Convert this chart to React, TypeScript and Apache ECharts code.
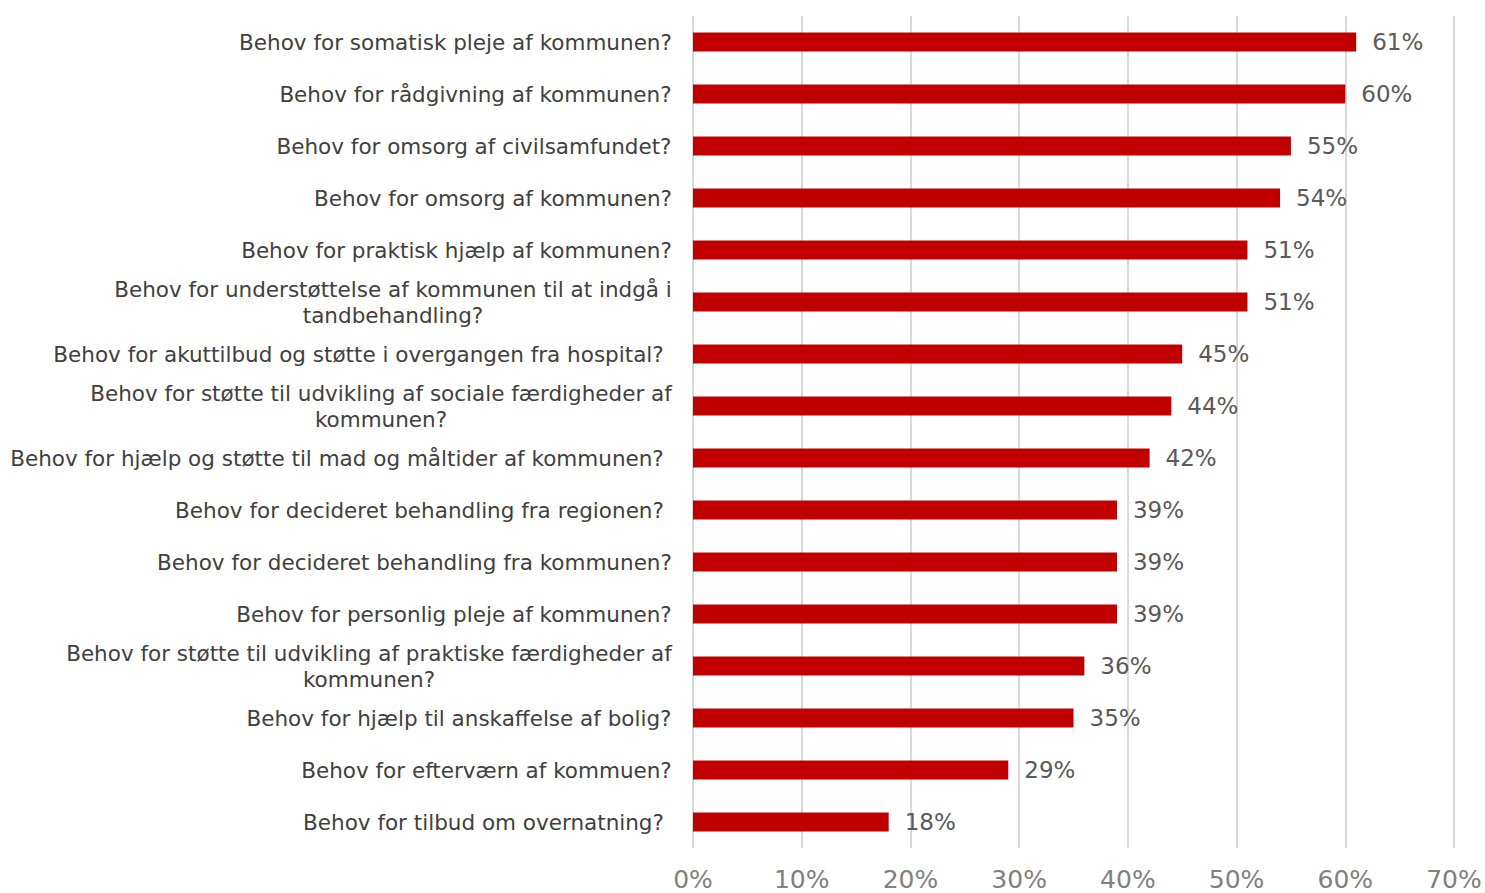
import React, { useEffect, useRef } from "react";
import * as echarts from "echarts";

const categories: string[] = [
  "Behov for somatisk pleje af kommunen?",
  "Behov for rådgivning af kommunen?",
  "Behov for omsorg af civilsamfundet?",
  "Behov for omsorg af kommunen?",
  "Behov for praktisk hjælp af kommunen?",
  "Behov for understøttelse af kommunen til at indgå i\ntandbehandling?",
  "Behov for akuttilbud og støtte i overgangen fra hospital? ",
  "Behov for støtte til udvikling af sociale færdigheder af\nkommunen?",
  "Behov for hjælp og støtte til mad og måltider af kommunen? ",
  "Behov for decideret behandling fra regionen? ",
  "Behov for decideret behandling fra kommunen?",
  "Behov for personlig pleje af kommunen?",
  "Behov for støtte til udvikling af praktiske færdigheder af\nkommunen?",
  "Behov for hjælp til anskaffelse af bolig?",
  "Behov for efterværn af kommuen?",
  "Behov for tilbud om overnatning? ",
];

const values: number[] = [61, 60, 55, 54, 51, 51, 45, 44, 42, 39, 39, 39, 36, 35, 29, 18];

const xTicks: number[] = [0, 10, 20, 30, 40, 50, 60, 70];

const LABEL_FONT = "DejaVu Sans";
const LABEL_SIZE = 21.5;

function measure(text: string): number {
  const c = document.createElement("canvas").getContext("2d");
  if (!c) return text.length * LABEL_SIZE * 0.6;
  c.font = `${LABEL_SIZE}px "${LABEL_FONT}"`;
  return c.measureText(text).width;
}

export default function App() {
  const ref = useRef<HTMLDivElement>(null);
  useEffect(() => {
    if (!ref.current) return;
    const chart = echarts.init(ref.current, undefined, { renderer: "svg" });

    const rich: Record<string, any> = {};
    categories.forEach((c, i) => {
      const trimmed = c.replace(/ +$/, "");
      const trailing = trimmed.length !== c.length;
      const lines = trimmed.split("\n");
      const w = Math.ceil(Math.max(...lines.map(measure)));
      rich["r" + i] = {
        width: w,
        align: "center",
        fontFamily: LABEL_FONT,
        fontSize: LABEL_SIZE,
        color: "#404040",
        lineHeight: 26,
        padding: [0, trailing ? 8 : 0, 0, 0],
      };
    });

    chart.setOption({
      animation: false,
      grid: { left: 693, right: 31, top: 16, bottom: 45, containLabel: false },
      xAxis: {
        type: "value",
        min: 0,
        max: 70,
        interval: 10,
        axisLine: { show: false },
        axisTick: { show: false },
        splitLine: { show: true, lineStyle: { color: "#d9d9d9", width: 2 } },
        axisLabel: {
          formatter: (v: number) => (xTicks.includes(v) ? v + "%" : ""),
          color: "#808080",
          fontFamily: LABEL_FONT,
          fontSize: 25,
          margin: 19,
        },
      },
      yAxis: {
        type: "category",
        inverse: true,
        data: categories,
        axisLine: { show: false },
        axisTick: { show: false },
        axisLabel: {
          margin: 21,
          align: "right",
          interval: 0,
          formatter: (v: string, i: number) => {
            const lines = v.replace(/ +$/, "").split("\n");
            return lines.map((l) => `{r${i}|${l}}`).join("\n");
          },
          rich,
        },
      },
      series: [
        {
          type: "bar",
          data: values,
          barWidth: 19,
          itemStyle: { color: "#C00000" },
          label: {
            show: true,
            position: "right",
            distance: 16,
            formatter: (p: any) => p.value + "%",
            color: "#595959",
            fontFamily: LABEL_FONT,
            fontSize: 23,
          },
        },
      ],
    });
    return () => chart.dispose();
  }, []);
  return <div ref={ref} style={{ width: 1485, height: 893, position: "absolute", left: 0, top: 0 }} />;
}
